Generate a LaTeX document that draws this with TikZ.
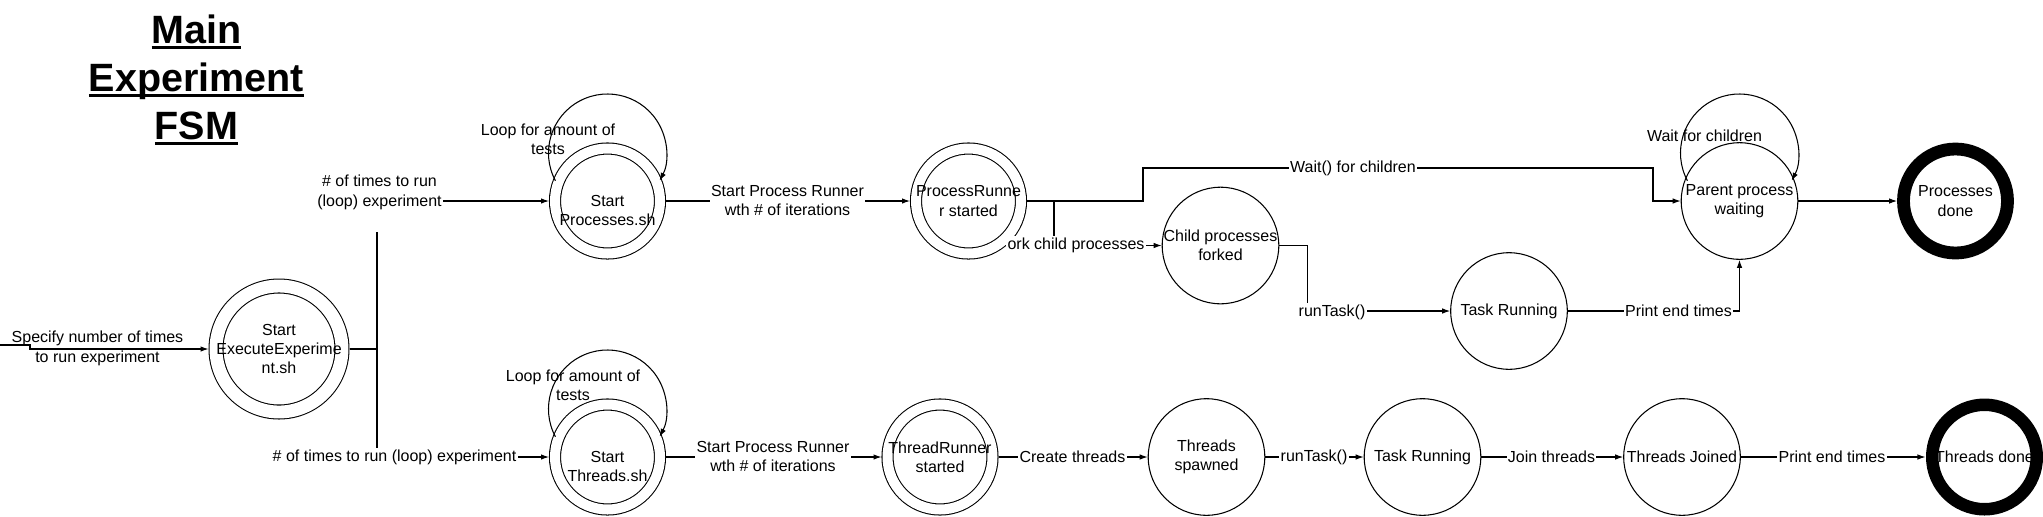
\documentclass[tikz,border=0pt]{standalone}
\usepackage{fontspec}
\setmainfont{Liberation Sans}
\usetikzlibrary{arrows.meta}

\newcommand{\titleul}[1]{\setbox0\hbox{#1}\rlap{\rule[-0.056cm]{\wd0}{0.03cm}}\box0}

\tikzset{
  state/.style={circle, draw, fill=white, minimum size=1.166cm, inner sep=0pt},
  dstate/.style={state, minimum size=1.05cm, double, double distance=0.1cm, outer sep=0.06cm},
  final/.style={circle, draw, fill=white, line width=0.128cm, minimum size=1.04cm, inner sep=0pt},
  note/.style={align=center, inner sep=0pt},
  txt/.style={label={[note]center:#1}},
  lbl/.style={fill=white, inner sep=0.4pt, align=center},
  title/.style={font=\fontsize{11.24}{13.66}\selectfont\bfseries, inner sep=0pt, anchor=base},
}

\begin{document}
\begin{tikzpicture}[font=\fontsize{4.55}{5.49}\selectfont, line width=0.3pt, >={Latex[length=0.08cm,width=0.055cm]}]
\useasboundingbox (0,0) rectangle (20.43,-5.16);

\node[title] (t1) at (1.965,-0.43) {\titleul{Main}};
\node[title] (t2) at (1.965,-0.91) {\titleul{Experiment}};
\node[title] (t3) at (1.965,-1.39) {\titleul{FSM}};

\node[state, minimum size=1.26cm, double, double distance=0.129cm, outer sep=0.075cm, txt={Start\\ExecuteExperime\\nt.sh}] (exec) at (2.79,-3.49) {};
\node[dstate, label={[note,yshift=-0.095cm]center:Start\\Processes.sh}] (sp) at (6.075,-2.01) {};
\node[dstate, label={[note,yshift=-0.095cm]center:Start\\Threads.sh}] (st) at (6.075,-4.57) {};
\node[dstate, txt={ProcessRunne\\r started}] (pr) at (9.685,-2.01) {};
\node[state, txt={Child processes\\forked}] (cp) at (12.205,-2.455) {};
\node[state, txt={Task Running}] (trp) at (15.09,-3.11) {};
\node[state, txt={Parent process\\waiting}] (pw) at (17.395,-2.01) {};
\node[final, txt={Processes\\done}] (pd) at (19.555,-2.01) {};
\node[dstate, txt={ThreadRunner\\started}] (tr) at (9.40,-4.57) {};
\node[state, txt={Threads\\spawned}] (ts) at (12.065,-4.57) {};
\node[state, txt={Task Running}] (trt) at (14.225,-4.57) {};
\node[state, txt={Threads Joined}] (tj) at (16.82,-4.57) {};
\node[circle, minimum size=1.17cm, inner sep=0pt] (td) at (19.845,-4.57) {Threads done};
\draw[line width=0.125cm] (td.center) circle[radius=0.5225];

% loops
\draw[->] (sp) ++(-0.521,0.203) arc[start angle=208, end angle=-28, radius=0.59];
\draw[->] (st) ++(-0.521,0.203) arc[start angle=208, end angle=-28, radius=0.59];
\draw[->] (pw) ++(-0.521,0.203) arc[start angle=208, end angle=-28, radius=0.59];
\node[note] (lp1) at (5.48,-1.395) {Loop for amount of\\tests};
\node[note] (lp2) at (5.73,-3.855) {Loop for amount of\\tests};
\node[note] (lp3) at (17.045,-1.36) {Wait for children};

% start
\coordinate (in) at (0,-3.45);
\draw[->] (in) -- ++(0.30,0) |- (exec);
\node[note] (inl) at (0.975,-3.485) {Specify number of times\\to run experiment};

\coordinate (split) at (3.77,-3.49);
\draw (exec) -- (split);
\draw[->] (split) |- (sp);
\draw[->] (split) |- (st);
\node[lbl, minimum height=0.79cm] (runp) at (3.795,-1.925) {\# of times to run\\(loop) experiment};
\node[lbl] (runt) at (3.945,-4.57) {\# of times to run (loop) experiment};

% processes
\draw[->] (sp) -- (pr);
\node[lbl] (spl) at (7.875,-2.005) {Start Process Runner\\wth \# of iterations};
\coordinate (wa) at (11.43,-2.01);
\coordinate (wb) at (16.53,-1.68);
\draw[->] (pr) -- (wa) |- (wb) |- (pw);
\node[lbl] (wl) at (13.53,-1.68) {Wait() for children};
\coordinate (fk) at (10.54,-2.01);
\draw[->] (fk) |- (cp);
\node[lbl] (fl) at (10.76,-2.45) {ork child processes};
\draw[->] (cp.east) -- ++(0.28,0) |- (trp);
\node[lbl] (rl1) at (13.32,-3.12) {runTask()};
\draw[->] (trp) -| (pw);
\node[lbl] (pl1) at (16.785,-3.11) {Print end times};
\draw[->] (pw) -- (pd);

% threads
\draw[->] (st) -- (tr);
\node[lbl] (stl) at (7.73,-4.565) {Start Process Runner\\wth \# of iterations};
\draw[->] (tr) -- (ts);
\node[lbl] (cl) at (10.725,-4.57) {Create threads};
\draw[->] (ts) -- (trt);
\node[lbl] (rl2) at (13.14,-4.57) {runTask()};
\draw[->] (trt) -- (tj);
\node[lbl] (jl) at (15.515,-4.57) {Join threads};
\draw[->] (tj) -- (td);
\node[lbl] (pl2) at (18.32,-4.57) {Print end times};
\end{tikzpicture}
\end{document}
